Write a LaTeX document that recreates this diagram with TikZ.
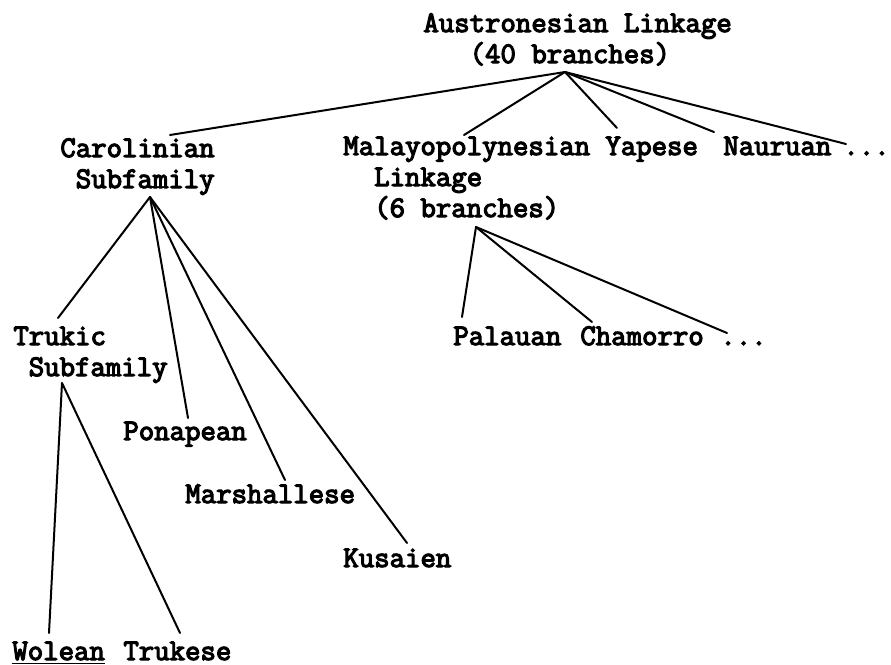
\documentclass[tikz,border=0pt]{standalone}
\usepackage{fontspec}
% heavy typewriter face
\newfontfamily\tw{Latin Modern Mono}[FakeBold=4]
\begin{document}
\begin{tikzpicture}[x=0.5pt,y=-0.5pt,
  lbl/.style={anchor=base west, inner sep=0pt, align=left,
    font=\tw\fontsize{14.97}{15.5}\selectfont},
  branch/.style={line width=1pt, line cap=round}]
\useasboundingbox (0,0) rectangle (891,665);

% top level (multi-line labels sit on the baseline of their last line)
\node[lbl] (root) at (423,63) {Austronesian Linkage\\\phantom{xxx}(40 branches)};
\coordinate (root-b) at (565,72);

% second level
\node[lbl] (carol)  at (60,188)  {Carolinian\\\phantom{x}Subfamily};
\node[lbl] (malayo) at (343,217) {Malayopolynesian\\\phantom{xx}Linkage\\\phantom{xx}(6 branches)};
\node[lbl] (yapese) at (605,155) {Yapese};
\node[lbl] (nauru)  at (723,155) {Nauruan};
\node[lbl] (moreA)  at (843,155) {...};
\coordinate (carol-t)  at (170,135);
\coordinate (malayo-t) at (464,135);
\coordinate (yapese-t) at (617,128);
\coordinate (nauru-t)  at (714,132);
\coordinate (moreA-t)  at (846,144);
\coordinate (carol-b)  at (150,197);
\coordinate (malayo-b) at (476,227);

% Malayopolynesian branches
\node[lbl] (palau)    at (453,345) {Palauan};
\node[lbl] (chamorro) at (580,345) {Chamorro};
\node[lbl] (moreB)    at (720,345) {...};
\coordinate (palau-t)    at (462,317);
\coordinate (chamorro-t) at (592,322);
\coordinate (moreB-t)    at (727,333);

% Carolinian branches
\node[lbl] (truk)   at (13,376)  {Trukic\\\phantom{x}Subfamily};
\node[lbl] (ponape) at (123,440) {Ponapean};
\node[lbl] (marsh)  at (185,503) {Marshallese};
\node[lbl] (kusaie) at (343,567) {Kusaien};
\coordinate (truk-t)   at (58,318);
\coordinate (ponape-t) at (188,418);
\coordinate (marsh-t)  at (285,480);
\coordinate (kusaie-t) at (407,543);
\coordinate (truk-b)   at (62,383);

% Trukic branches
\node[lbl] (wolean)  at (12,660)  {\underline{Wolean}};
\node[lbl] (trukese) at (123,660) {Trukese};
\coordinate (wolean-t)  at (49,633);
\coordinate (trukese-t) at (180,633);

\draw[branch] (root-b) -- (carol-t);
\draw[branch] (root-b) -- (malayo-t);
\draw[branch] (root-b) -- (yapese-t);
\draw[branch] (root-b) -- (nauru-t);
\draw[branch] (root-b) -- (moreA-t);

\draw[branch] (carol-b) -- (truk-t);
\draw[branch] (carol-b) -- (ponape-t);
\draw[branch] (carol-b) -- (marsh-t);
\draw[branch] (carol-b) -- (kusaie-t);

\draw[branch] (truk-b) -- (wolean-t);
\draw[branch] (truk-b) -- (trukese-t);

\draw[branch] (malayo-b) -- (palau-t);
\draw[branch] (malayo-b) -- (chamorro-t);
\draw[branch] (malayo-b) -- (moreB-t);
\end{tikzpicture}
\end{document}
